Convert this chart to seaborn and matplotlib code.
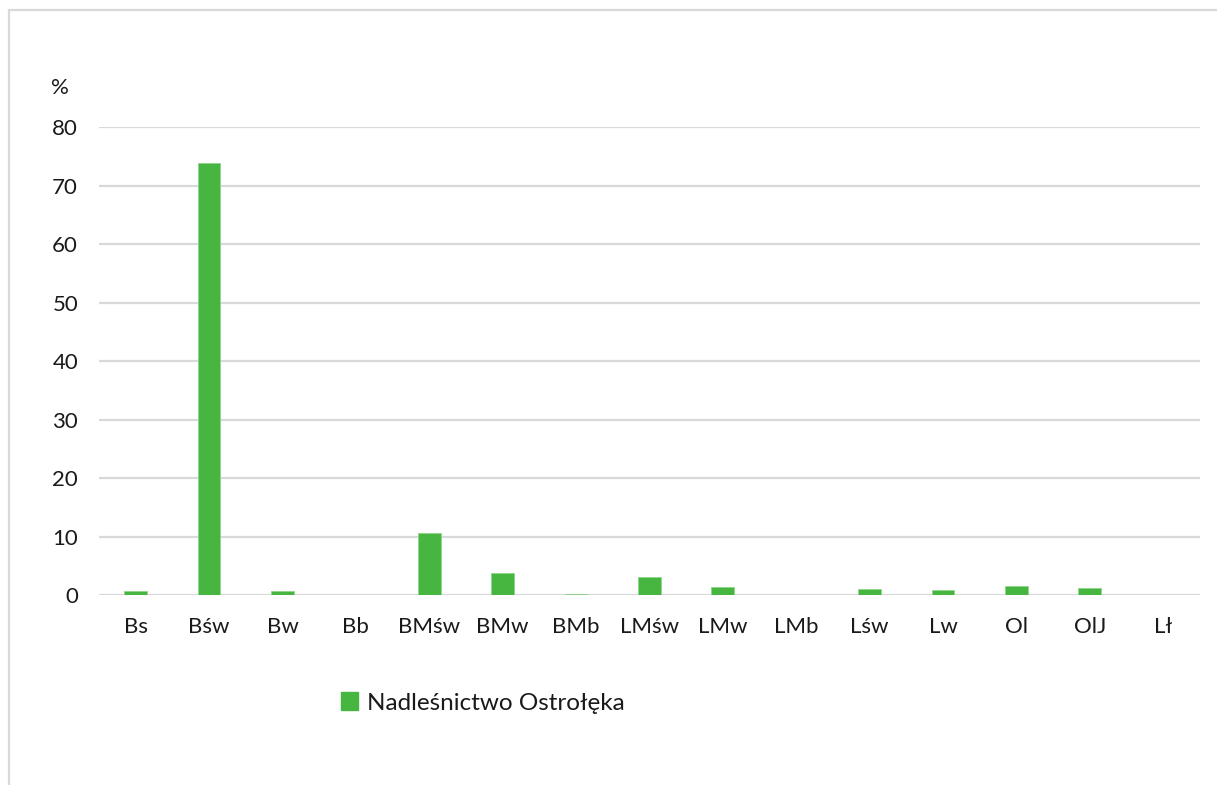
import matplotlib
matplotlib.use("Agg")
import matplotlib.pyplot as plt
import matplotlib.patches as mpatches
import seaborn as sns
import pandas as pd

# Share of forest site types (%)
categories = ["Bs", "Bśw", "Bw", "Bb", "BMśw", "BMw", "BMb", "LMśw", "LMw",
              "LMb", "Lśw", "Lw", "Ol", "OlJ", "Lł"]
values = [0.65, 73.9, 0.65, 0.0, 10.6, 3.7, 0.25, 3.1, 1.3,
          0.05, 1.1, 0.9, 1.5, 1.15, 0.0]
series_name = "Nadleśnictwo Ostrołęka"
y_ticks = [0, 10, 20, 30, 40, 50, 60, 70, 80]

bar_color = "#46b640"
grid_color = "#d9d9d9"
text_color = "#1a1a1a"

sns.set_theme(style="white")
plt.rcParams["font.family"] = ["Lato", "DejaVu Sans"]

df = pd.DataFrame({"typ": categories, "udzial": values})

fig = plt.figure(figsize=(12.17, 7.85), dpi=100)
ax = fig.add_axes([0.0813, 0.242, 0.9047, 0.596])

sns.barplot(data=df, x="typ", y="udzial", color=bar_color, width=0.31,
            saturation=1, edgecolor="#8fd68b", linewidth=0.6,
            label=series_name, ax=ax, zorder=3)

ax.set_ylim(0, 80)
ax.set_xlim(-0.5, len(categories) - 0.5)
ax.set_yticks(y_ticks)
ax.set_yticklabels([str(t) for t in y_ticks])
ax.yaxis.grid(True, color=grid_color, linewidth=1.6, zorder=0)
ax.set_axisbelow(True)
for side in ["top", "right", "left", "bottom"]:
    ax.spines[side].set_visible(False)
ax.tick_params(axis="both", length=0, labelsize=16, labelcolor=text_color)
ax.tick_params(axis="y", pad=15)
ax.tick_params(axis="x", pad=16)
ax.set_xlabel("")
ax.set_ylabel("")

# unit label above the value axis
fig.text(60 / 1217, 1 - 88 / 785, "%", fontsize=16, color=text_color,
         ha="center", va="center")

# legend below the plot
handles = [mpatches.Patch(facecolor=bar_color, edgecolor=bar_color)]
fig.legend(handles, [series_name], loc="center", frameon=False,
           bbox_to_anchor=(483 / 1217, 1 - 703 / 785), fontsize=17.5,
           handlelength=0.7, handleheight=0.7, handletextpad=0.35,
           labelcolor=text_color)
if ax.get_legend() is not None:
    ax.get_legend().remove()

# outer chart frame
frame = mpatches.Rectangle((9 / 1217, -0.05), 1.2, 1 - 10 / 785 + 0.05,
                           transform=fig.transFigure, fill=False,
                           edgecolor="#d9d9d9", linewidth=1.6)
fig.patches.append(frame)

fig.savefig("out.png", dpi=100)
